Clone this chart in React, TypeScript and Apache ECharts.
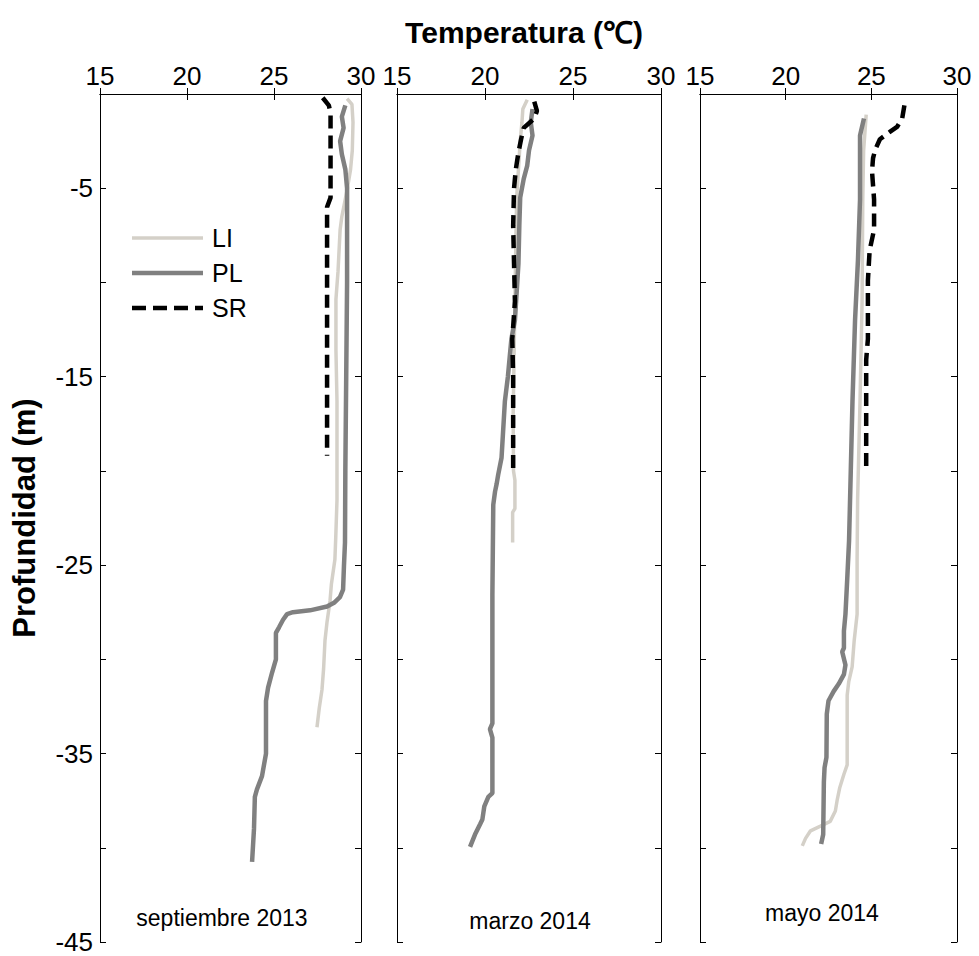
import React, { useEffect, useRef } from "react";
import * as echarts from "echarts";

// [temperature (°C), depth (m)]
const sepLI: [number, number][] = [
  [29.2, -0.24], [29.48, -0.55], [29.54, -1.5], [29.5, -3.0], [29.4, -4.0], [29.2, -5.1],
  [28.9, -6.5], [28.8, -7.2], [28.68, -9.4], [28.56, -10.9], [28.56, -13.6], [28.62, -16.3],
  [28.62, -18.9], [28.62, -21.55], [28.55, -23.5], [28.5, -24.7], [28.3, -26.0], [28.22, -26.9],
  [28.05, -28.0], [27.93, -29.0], [27.85, -30.5], [27.76, -31.6], [27.6, -32.6], [27.47, -33.6],
];
const sepPL: [number, number][] = [
  [29.1, -0.6], [28.9, -1.2], [29.0, -1.8], [28.8, -2.5], [28.9, -3.2], [29.1, -4.0],
  [29.2, -5.0], [29.2, -10.0], [29.15, -15.0], [29.1, -20.0], [29.08, -23.8], [29.02, -25.05],
  [28.97, -26.3], [28.79, -26.7], [28.45, -27.0], [28.05, -27.2], [27.07, -27.4], [26.09, -27.5],
  [25.75, -27.6], [25.52, -27.9], [25.29, -28.3], [25.11, -28.6], [25.11, -30.0], [24.89, -30.7],
  [24.66, -31.5], [24.54, -32.2], [24.54, -35.0], [24.31, -36.2], [24.02, -36.9], [23.9, -37.3],
  [23.85, -39.0], [23.74, -40.75],
];
const sepSR: [number, number][] = [
  [27.8, -0.2], [28.15, -0.6], [28.25, -1.0], [28.25, -5.5], [28.05, -6.0], [28.05, -19.2],
];

const marLI: [number, number][] = [
  [22.4, -0.3], [22.15, -0.8], [22.1, -1.5], [22.0, -2.5], [21.9, -4.0], [21.8, -5.5],
  [21.75, -8.0], [21.7, -11.0], [21.65, -14.0], [21.6, -17.0], [21.62, -20.0], [21.7, -20.5],
  [21.7, -22.0], [21.57, -22.2], [21.57, -23.8],
];
const marPL: [number, number][] = [
  [22.7, -0.8], [22.6, -1.5], [22.7, -2.2], [22.5, -3.0], [22.4, -3.8], [22.2, -4.5],
  [22.0, -5.5], [21.95, -7.0], [21.9, -9.0], [21.8, -10.5], [21.7, -12.0], [21.5, -13.0],
  [21.4, -14.0], [21.3, -15.0], [21.13, -16.3], [20.94, -19.3], [20.75, -20.2], [20.66, -20.7],
  [20.57, -21.1], [20.47, -21.8], [20.42, -26.6], [20.42, -33.4], [20.28, -33.7], [20.42, -34.15],
  [20.42, -37.1], [20.19, -37.3], [19.96, -37.8], [19.85, -38.5], [19.72, -38.75], [19.43, -39.3],
  [19.15, -39.95],
];
const marSR: [number, number][] = [
  [22.8, -0.4], [22.95, -0.9], [22.8, -1.3], [22.2, -1.8], [22.05, -2.4], [21.9, -3.1],
  [21.75, -4.0], [21.65, -5.0], [21.6, -7.0], [21.65, -9.0], [21.7, -11.0], [21.55, -13.0],
  [21.6, -15.0], [21.6, -20.0],
];

const mayLI: [number, number][] = [
  [24.7, -1.1], [24.55, -3.0], [24.5, -5.6], [24.46, -11.0], [24.34, -16.3], [24.2, -21.5],
  [24.17, -24.7], [24.17, -27.6], [24.0, -29.0], [23.88, -30.4], [23.68, -31.2], [23.59, -31.9],
  [23.59, -35.6], [23.4, -36.1], [23.16, -36.8], [23.0, -37.5], [22.9, -38.05], [22.6, -38.6],
  [22.03, -38.85], [21.45, -39.1], [21.16, -39.5], [20.97, -39.9],
];
const mayPL: [number, number][] = [
  [24.57, -1.3], [24.34, -2.2], [24.34, -5.6], [24.22, -8.8], [24.05, -12.0], [23.9, -16.3],
  [23.8, -20.0], [23.7, -23.7], [23.59, -25.8], [23.49, -27.6], [23.4, -28.5], [23.4, -29.4],
  [23.3, -29.6], [23.49, -30.3], [23.4, -30.8], [23.1, -31.3], [22.8, -31.7], [22.5, -32.2],
  [22.4, -32.9], [22.38, -35.2], [22.27, -35.75], [22.23, -36.5], [22.19, -39.3], [22.07, -39.8],
];
const maySR: [number, number][] = [
  [26.93, -0.6], [26.8, -1.3], [26.5, -1.75], [26.1, -2.0], [25.5, -2.4], [25.23, -2.95],
  [25.1, -3.4], [25.04, -4.1], [25.16, -5.6], [25.16, -7.2], [24.9, -8.3], [24.8, -9.9],
  [24.8, -13.0], [24.7, -14.1], [24.7, -20.0],
];

const panelNames = ["septiembre 2013", "marzo 2014", "mayo 2014"];
const legendNames = ["LI", "PL", "SR"];
const xTicks = [15, 20, 25, 30];
const yLabelTicks = [-45, -35, -25, -15, -5];

const FONT = "Liberation Sans, Arial, sans-serif";
const LI_COLOR = "#d4d0c8";
const PL_COLOR = "#808080";
const SR_COLOR = "#000000";

export default function App() {
  const ref = useRef<HTMLDivElement>(null);
  useEffect(() => {
    document.body.style.margin = "0";
    const chart = echarts.init(ref.current!, null, { renderer: "svg" });
    const grids = [
      { left: 100, top: 94, width: 261, height: 848 },
      { left: 397, top: 94, width: 264, height: 848 },
      { left: 700, top: 94, width: 257, height: 848 },
    ];
    const subX = [222, 530, 822];
    const subY = [918, 921, 913];
    const panels = [
      [sepLI, sepPL, sepSR],
      [marLI, marPL, marSR],
      [mayLI, mayPL, maySR],
    ];
    const styles = [
      { color: LI_COLOR, width: 3.5, type: "solid" as any },
      { color: PL_COLOR, width: 4.5, type: "solid" as any },
      { color: SR_COLOR, width: 4.5, type: [13, 7] as any },
    ];
    const axisLine = { show: true, lineStyle: { color: "#000", width: 1 } };
    const tick = { show: true, inside: true, length: 6, lineStyle: { color: "#000" } };
    const xAxis: any[] = [];
    const yAxis: any[] = [];
    grids.forEach((_, i) => {
      xAxis.push({
        type: "value", gridIndex: i, position: "top", min: 15, max: 30, interval: 5,
        axisLine, axisTick: tick, splitLine: { show: false },
        axisLabel: {
          show: true, fontSize: 26, color: "#000", fontFamily: FONT, margin: 5,
          formatter: (v: number) => (xTicks.includes(v) ? String(v) : ""),
        },
      });
    });
    grids.forEach((_, i) => {
      xAxis.push({
        type: "value", gridIndex: i, position: "bottom", min: 15, max: 30, interval: 5,
        axisLine, axisTick: tick, splitLine: { show: false }, axisLabel: { show: false },
      });
    });
    grids.forEach((_, i) => {
      yAxis.push({
        type: "value", gridIndex: i, position: "left", min: -45, max: 0, interval: 5,
        axisLine, axisTick: tick, splitLine: { show: false },
        name: i === 0 ? "Profundidad (m)" : "",
        nameLocation: "middle", nameGap: 60,
        nameTextStyle: { fontSize: 31, fontWeight: "bold", color: "#000", fontFamily: FONT },
        axisLabel: {
          show: i === 0, fontSize: 26, color: "#000", fontFamily: FONT, margin: 7,
          formatter: (v: number) => (yLabelTicks.includes(v) ? String(v) : ""),
        },
      });
    });
    grids.forEach((_, i) => {
      yAxis.push({
        type: "value", gridIndex: i, position: "right", min: -45, max: 0, interval: 5,
        axisLine, axisTick: tick, splitLine: { show: false }, axisLabel: { show: false },
      });
    });
    const series: any[] = [];
    panels.forEach((p, i) => {
      p.forEach((data, k) => {
        series.push({
          name: legendNames[k], type: "line", xAxisIndex: i, yAxisIndex: i, data,
          symbol: "none", showSymbol: false, z: 2 + k,
          lineStyle: styles[k], itemStyle: { color: styles[k].color },
        });
      });
    });
    const legendGraphics: any[] = [];
    legendNames.forEach((n, k) => {
      const y = 238 + k * 35;
      legendGraphics.push({
        type: "line", shape: { x1: 132, y1: y, x2: 203, y2: y },
        style: { stroke: styles[k].color, lineWidth: styles[k].width, lineDash: k === 2 ? [14, 7] : null },
      });
      legendGraphics.push({
        type: "text", x: 212, y,
        style: { text: n, fontSize: 25, fill: "#000", fontFamily: FONT, verticalAlign: "middle" },
      });
    });
    chart.setOption({
      animation: false,
      backgroundColor: "#fff",
      title: {
        text: "Temperatura (\u2103)", left: 519, top: 12, textAlign: "center",
        textStyle: { fontSize: 30, fontWeight: "bold", color: "#000", fontFamily: FONT },
      },
      grid: grids,
      xAxis, yAxis, series,
      graphic: [
        ...legendGraphics,
        ...grids.map((g, i) => ({
          type: "text", x: subX[i], y: subY[i],
          style: {
            text: panelNames[i], fontSize: 23, fill: "#000", fontFamily: FONT,
            align: "center", verticalAlign: "middle",
          },
        })),
      ],
    });
    return () => chart.dispose();
  }, []);
  return <div ref={ref} style={{ width: 979, height: 956 }} />;
}
